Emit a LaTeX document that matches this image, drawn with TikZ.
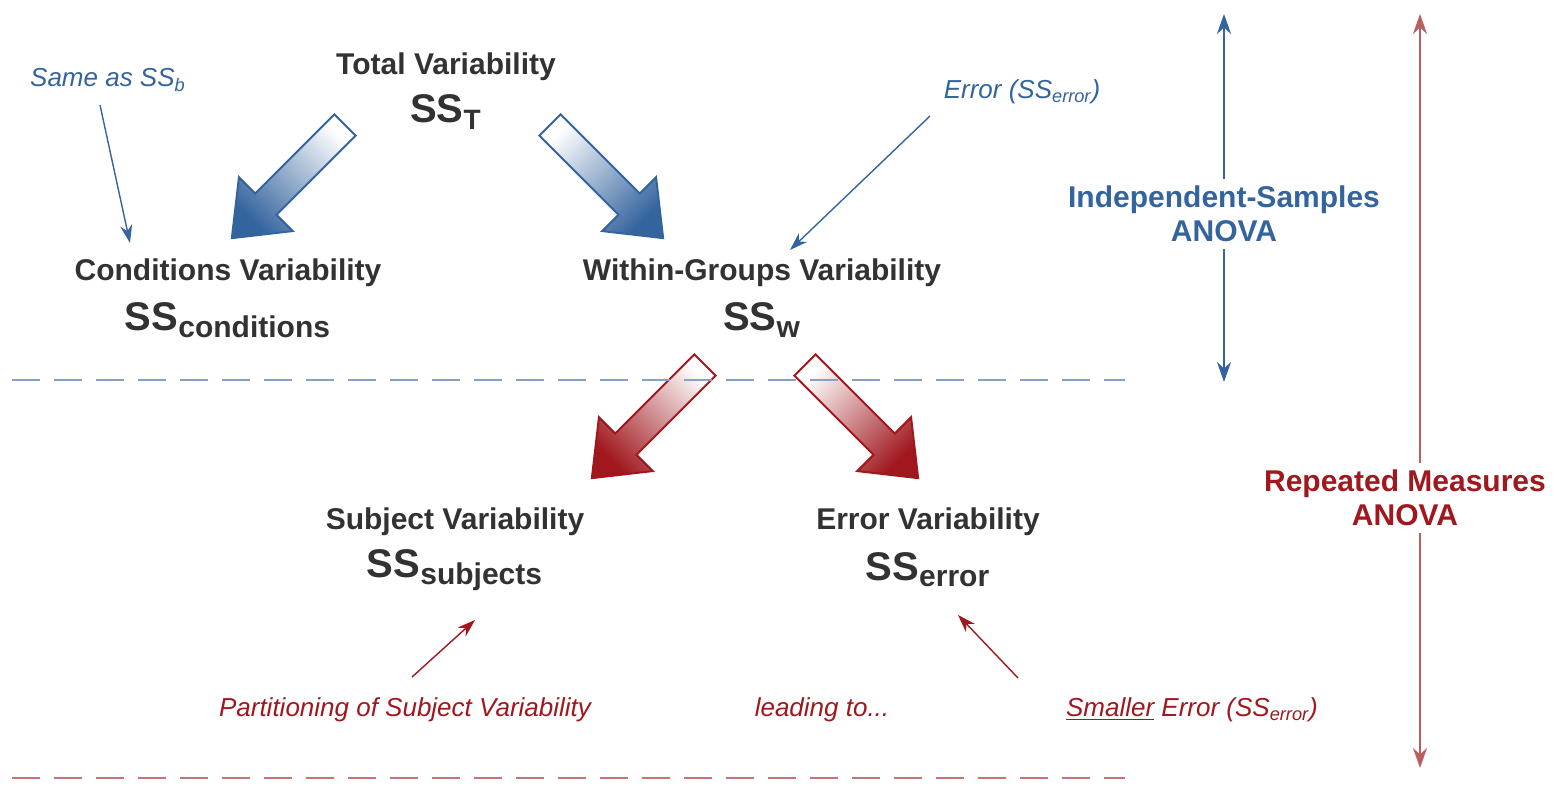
\documentclass[tikz,border=0pt]{standalone}
\usepackage{fontspec}
\setmainfont{Liberation Sans}
\usetikzlibrary{arrows.meta}
\definecolor{bl}{RGB}{52,100,158}
\definecolor{rd}{RGB}{160,24,30}
\definecolor{tx}{RGB}{50,50,50}
\begin{document}
\begin{tikzpicture}[x=0.5pt,y=-0.5pt,
  lbl/.style={font=\bfseries\fontsize{15}{17}\selectfont,text=tx,align=center},
  ss/.style={font=\bfseries\fontsize{20}{22}\selectfont,text=tx},
  hand/.style={font=\itshape\fontsize{13}{15}\selectfont},
  thin/.style={-{Stealth[length=9pt,width=6pt]},line width=0.7pt},
  side/.style={-{Stealth[length=10pt,width=7pt]},line width=1.3pt}]
\useasboundingbox (0,0) rectangle (1554,798);
\fill[white] (0,0) rectangle (1554,798);
% block arrows
\newcommand{\blockarrow}[5]{%
 \begin{scope}[shift={(#1,#2)},rotate=#3]
  \shade[shading=axis,top color=white,middle color=white,bottom color=#4,shading angle=#5,draw=#4,line width=1pt]
   (0,-15) -- (112,-15) -- (112,-38) -- (160,0) -- (112,38) -- (112,15) -- (0,15) -- cycle;
 \end{scope}}
\blockarrow{345}{125}{-135}{bl}{-45}
\blockarrow{550}{125}{-45}{bl}{45}
\blockarrow{705}{365}{-135}{rd}{-45}
\blockarrow{805}{365}{-45}{rd}{45}
% texts
\node[lbl] (tot) at (446,67) {Total Variability};
\node[ss] (sst) at (446,112) {SS\textsubscript{\fontsize{14}{16}\selectfont T}};
\node[lbl] (cond) at (228,273) {Conditions Variability};
\node[ss] (sscond) at (228,320) {SS\textsubscript{\fontsize{15}{17}\selectfont conditions}};
\node[lbl] (with) at (762,273) {Within-Groups Variability};
\node[ss] (ssw) at (762,320) {SS\textsubscript{\fontsize{15}{17}\selectfont w}};
\node[lbl] (subj) at (455,522) {Subject Variability};
\node[ss] (sssubj) at (455,570) {SS\textsubscript{\fontsize{15}{17}\selectfont subjects}};
\node[lbl] (err) at (928,522) {Error Variability};
\node[ss] (sserr) at (928,570) {SS\textsubscript{\fontsize{15}{17}\selectfont error}};
% dashed lines
\coordinate (d1a) at (12,380); \coordinate (d1b) at (1125,380);
\draw[bl!60,dash pattern=on 14pt off 7pt,line width=1pt] (d1a) -- (d1b);
\coordinate (d2a) at (12,778); \coordinate (d2b) at (1125,778);
\draw[rd!60,dash pattern=on 14pt off 7pt,line width=1pt] (d2a) -- (d2b);
% side arrows
\node[lbl,text=bl] (ind) at (1224,214) {Independent-Samples\\ANOVA};
\coordinate (ia) at (1224,14); \coordinate (ib) at (1224,382);
\draw[side,bl] (ind.north) -- (ia);
\draw[side,bl] (ind.south) -- (ib);
\node[lbl,text=rd] (rep) at (1405,498) {Repeated Measures\\ANOVA};
\coordinate (ra) at (1420,14); \coordinate (rb) at (1420,768);
\draw[side,rd!70] (rep.north-|ra) -- (ra);
\draw[side,rd!70] (rep.south-|ra) -- (rb);
% hand labels
\node[hand,text=bl] (same) at (108,80) {Same as SS\textsubscript{b}};
\coordinate (samet) at (130,243);
\draw[thin,bl] (100,105) -- (samet);
\node[hand,text=bl] (erl) at (1022,92) {Error (SS\textsubscript{error})};
\coordinate (erlt) at (790,250);
\draw[thin,bl] (930,116) -- (erlt);
\node[hand,text=rd] (part) at (405,710) {Partitioning of Subject Variability};
\node[hand,text=rd] (lead) at (822,710) {leading to...};
\node[hand,text=rd] (small) at (1192,710) {\underline{Smaller} Error (SS\textsubscript{error})};
\coordinate (pt) at (475,620); \coordinate (st) at (958,615);
\draw[thin,rd] (412,677) -- (pt);
\draw[thin,rd] (1018,678) -- (st);
\end{tikzpicture}
\end{document}
